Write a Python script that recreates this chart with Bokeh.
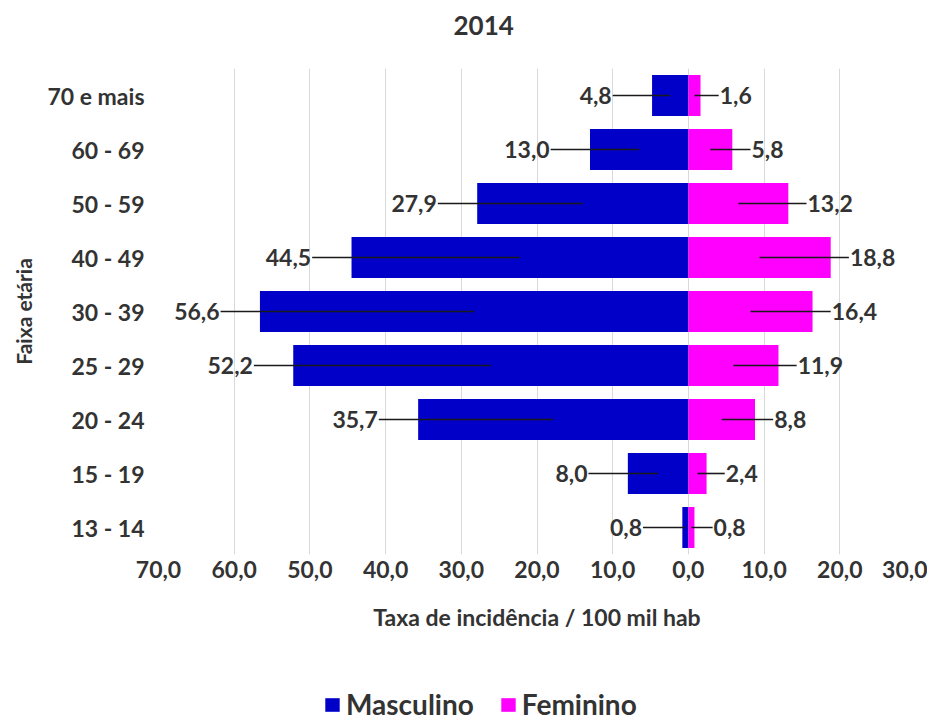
from bokeh.plotting import figure
from bokeh.models import (FactorRange, Range1d, FixedTicker, CustomJSTickFormatter,
                          ColumnDataSource, Legend, LegendItem, Title)
from bokeh.layouts import column
from bokeh.core.properties import value
from bokeh.embed import file_html
from bokeh.resources import INLINE

# ---- data ----
categories = ["13 - 14", "15 - 19", "20 - 24", "25 - 29", "30 - 39",
              "40 - 49", "50 - 59", "60 - 69", "70 e mais"]
masculino = [0.8, 8.0, 35.7, 52.2, 56.6, 44.5, 27.9, 13.0, 4.8]
feminino = [0.8, 2.4, 8.8, 11.9, 16.4, 18.8, 13.2, 5.8, 1.6]
x_ticks = [-70, -60, -50, -40, -30, -20, -10, 0, 10, 20, 30]
title_text = "2014"
x_title = "Taxa de incidência / 100 mil hab"
y_title = "Faixa etária"
series_names = ["Masculino", "Feminino"]

BLUE = "#0000C8"
MAGENTA = "#FF00FF"
TXT = "#333333"
FONT = "Lato"

def fmt(v):
    return f"{v:.1f}".replace(".", ",")

M_OFF = 5.2   # label offset (data units) for male labels
F_OFF = 2.4   # label offset for female labels

src = ColumnDataSource(dict(
    cat=categories,
    mleft=[-v for v in masculino],
    fright=feminino,
    mmid=[-v / 2 for v in masculino],
    fmid=[v / 2 for v in feminino],
    mlab_x=[-v - M_OFF for v in masculino],
    flab_x=[v + F_OFF for v in feminino],
    mlab=[fmt(v) for v in masculino],
    flab=[fmt(v) for v in feminino],
))

p = figure(width=927, height=660, output_backend="svg", toolbar_location=None,
           y_range=FactorRange(factors=categories),
           x_range=Range1d(-70, 30),
           min_border_left=158, min_border_right=12,
           min_border_top=68, min_border_bottom=106)

# real title (outermost) plus an empty spacer title next to the frame
p.title.text = title_text
p.title.text_font = FONT
p.title.text_font_style = "bold"
p.title.text_font_size = "26px"
p.title.text_color = TXT
p.title.align = "left"
p.title.offset = 295
spacer = Title(text=" ", text_font_size="16px", standoff=10)
p.add_layout(spacer, "above")

rm = p.hbar(y="cat", left="mleft", right=0, height=0.76, source=src,
            fill_color=BLUE, line_color=None)
rf = p.hbar(y="cat", left=0, right="fright", height=0.76, source=src,
            fill_color=MAGENTA, line_color=None)

# leader lines
p.segment(x0="mmid", y0="cat", x1="mlab_x", y1="cat", source=src,
          line_color="#1a1a1a", line_width=1.6)
p.segment(x0="fmid", y0="cat", x1="flab_x", y1="cat", source=src,
          line_color="#1a1a1a", line_width=1.6)

p.text(x="mlab_x", y="cat", text="mlab", source=src, text_align="right",
       text_baseline="middle", text_font=value(FONT), text_font_style="bold",
       text_font_size="23px", text_color=TXT, x_offset=-1)
p.text(x="flab_x", y="cat", text="flab", source=src, text_align="left",
       text_baseline="middle", text_font=value(FONT), text_font_style="bold",
       text_font_size="23px", text_color=TXT, x_offset=1)

# axes
p.xaxis.ticker = FixedTicker(ticks=x_ticks)
p.xaxis.formatter = CustomJSTickFormatter(
    code="return Math.abs(tick).toFixed(1).replace('.', ',');")
for ax in (p.xaxis, p.yaxis):
    ax.axis_line_color = None
    ax.major_tick_line_color = None
    ax.minor_tick_line_color = None
    ax.major_tick_out = 0
    ax.major_tick_in = 0
    ax.major_label_text_font = FONT
    ax.major_label_text_font_style = "bold"
    ax.major_label_text_font_size = "23px"
    ax.major_label_text_color = TXT
    ax.axis_label_text_font = FONT
    ax.axis_label_text_font_style = "bold"
    ax.axis_label_text_color = TXT

p.xaxis.axis_label = x_title
p.xaxis.axis_label_text_font_size = "23px"
p.xaxis.major_label_standoff = 6
p.xaxis.axis_label_standoff = 22
p.yaxis.axis_label = y_title
p.yaxis.axis_label_text_font_size = "21px"
p.yaxis.major_label_standoff = 14
p.yaxis.axis_label_standoff = 8

p.xgrid.grid_line_color = "#d9d9d9"
p.xgrid.grid_line_width = 1
p.ygrid.grid_line_color = None
p.outline_line_color = None

# ---- legend strip (separate canvas below the chart) ----
lg = figure(width=927, height=61, output_backend="svg", toolbar_location=None,
            x_range=Range1d(0, 1), y_range=Range1d(0, 1),
            min_border=0, min_border_left=0, min_border_right=0,
            min_border_top=0, min_border_bottom=0)
lg.axis.visible = False
lg.grid.grid_line_color = None
lg.outline_line_color = None
# off-range swatches only used by the legend
dm = lg.hbar(y=[-5], left=[0], right=[0.1], height=1, fill_color=BLUE, line_color=None)
df = lg.hbar(y=[-5], left=[0], right=[0.1], height=1, fill_color=MAGENTA, line_color=None)

legend = Legend(items=[LegendItem(label=series_names[0], renderers=[dm]),
                       LegendItem(label=series_names[1], renderers=[df])],
                orientation="horizontal", location=(165, 0),
                padding=0, margin=0, spacing=25, label_standoff=5,
                glyph_width=18, glyph_height=17,
                border_line_color=None, background_fill_alpha=0,
                label_text_font=FONT, label_text_font_style="bold",
                label_text_font_size="28px", label_text_color=TXT)
lg.add_layout(legend, "center")

layout = column(p, lg, spacing=0)
open("out.html", "w").write(file_html(layout, INLINE))
